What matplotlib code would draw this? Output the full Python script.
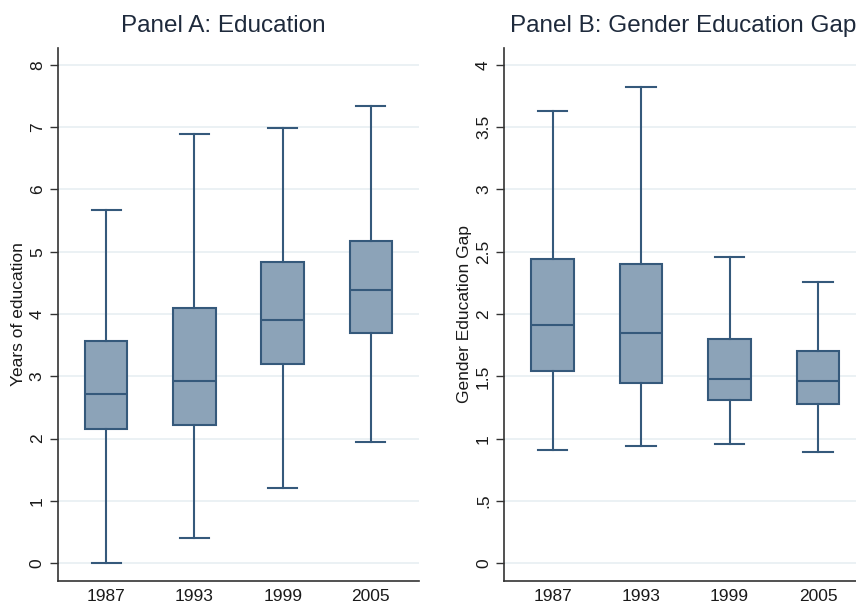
import matplotlib
matplotlib.use("Agg")
import matplotlib.pyplot as plt

# Data (box plot five-number summaries per survey year)
years = ["1987", "1993", "1999", "2005"]

# Panel A: years of education
edu_low = [0.0, 0.41, 1.21, 1.94]
edu_q1 = [2.15, 2.22, 3.20, 3.70]
edu_med = [2.71, 2.93, 3.91, 4.38]
edu_q3 = [3.56, 4.10, 4.84, 5.18]
edu_high = [5.67, 6.89, 6.99, 7.34]

# Panel B: gender education gap
gap_low = [0.91, 0.94, 0.96, 0.89]
gap_q1 = [1.54, 1.45, 1.31, 1.28]
gap_med = [1.91, 1.85, 1.48, 1.46]
gap_q3 = [2.44, 2.40, 1.80, 1.70]
gap_high = [3.63, 3.82, 2.46, 2.26]

edu_ticks = [0, 1, 2, 3, 4, 5, 6, 7, 8]
edu_ticklabels = ["0", "1", "2", "3", "4", "5", "6", "7", "8"]
gap_ticks = [0, 0.5, 1, 1.5, 2, 2.5, 3, 3.5, 4]
gap_ticklabels = ["0", ".5", "1", "1.5", "2", "2.5", "3", "3.5", "4"]

plt.rcParams["font.family"] = ["Liberation Sans", "DejaVu Sans"]

FACE = "#8ca3b8"
EDGE = "#35597b"
GRID = "#e8eff2"
TEXT = "#1a1a1a"


def make_stats(lo, q1, med, q3, hi):
    stats = []
    for i in range(len(years)):
        stats.append({"whislo": lo[i], "q1": q1[i], "med": med[i],
                      "q3": q3[i], "whishi": hi[i], "fliers": [], "label": years[i]})
    return stats


def draw_panel(ax, stats, ticks, ticklabels, ylim, ylabel):
    ax.bxp(stats, positions=range(1, len(stats) + 1), widths=0.48, capwidths=0.33,
           patch_artist=True, showfliers=False,
           boxprops=dict(facecolor=FACE, edgecolor=EDGE, linewidth=1.5),
           medianprops=dict(color=EDGE, linewidth=1.5),
           whiskerprops=dict(color=EDGE, linewidth=1.5),
           capprops=dict(color=EDGE, linewidth=1.5))
    ax.set_xlim(0.455, 4.545)
    ax.set_ylim(*ylim)
    ax.set_yticks(ticks)
    ax.set_yticklabels(ticklabels, rotation=90, va="center", fontsize=12.5, color=TEXT)
    ax.set_xticks(range(1, len(years) + 1))
    ax.set_xticklabels(years, fontsize=12.5, color=TEXT)
    ax.tick_params(axis="x", length=0, pad=6)
    ax.tick_params(axis="y", length=5.5, width=1, color="#333333", pad=4)
    ax.grid(axis="y", color=GRID, linewidth=1.2)
    ax.set_axisbelow(True)
    for side in ["top", "right"]:
        ax.spines[side].set_visible(False)
    for side in ["left", "bottom"]:
        ax.spines[side].set_color("#333333")
        ax.spines[side].set_linewidth(1.2)
    ax.set_ylabel(ylabel, fontsize=12.5, color=TEXT)
    ax.yaxis.set_label_coords(-32 / 361, 0.5)


fig = plt.figure(figsize=(8.56, 6.05), dpi=100)
fig.patch.set_facecolor("white")

ax1 = fig.add_axes([58 / 856, 1 - 580.7 / 605, 361 / 856, 532.7 / 605])
ax2 = fig.add_axes([504.3 / 856, 1 - 580.7 / 605, 362 / 856, 532.7 / 605])

draw_panel(ax1, make_stats(edu_low, edu_q1, edu_med, edu_q3, edu_high),
           edu_ticks, edu_ticklabels, (-0.28, 8.27), "Years of education")
draw_panel(ax2, make_stats(gap_low, gap_q1, gap_med, gap_q3, gap_high),
           gap_ticks, gap_ticklabels, (-0.14, 4.135), "Gender Education Gap")

fig.text(223 / 856, 1 - 32 / 605, "Panel A: Education", ha="center", va="baseline",
         fontsize=17.5, color="#1e2a3c")
fig.text(510 / 856, 1 - 32 / 605, "Panel B: Gender Education Gap", ha="left", va="baseline",
         fontsize=17.5, color="#1e2a3c")

fig.savefig("out.png", dpi=100)
